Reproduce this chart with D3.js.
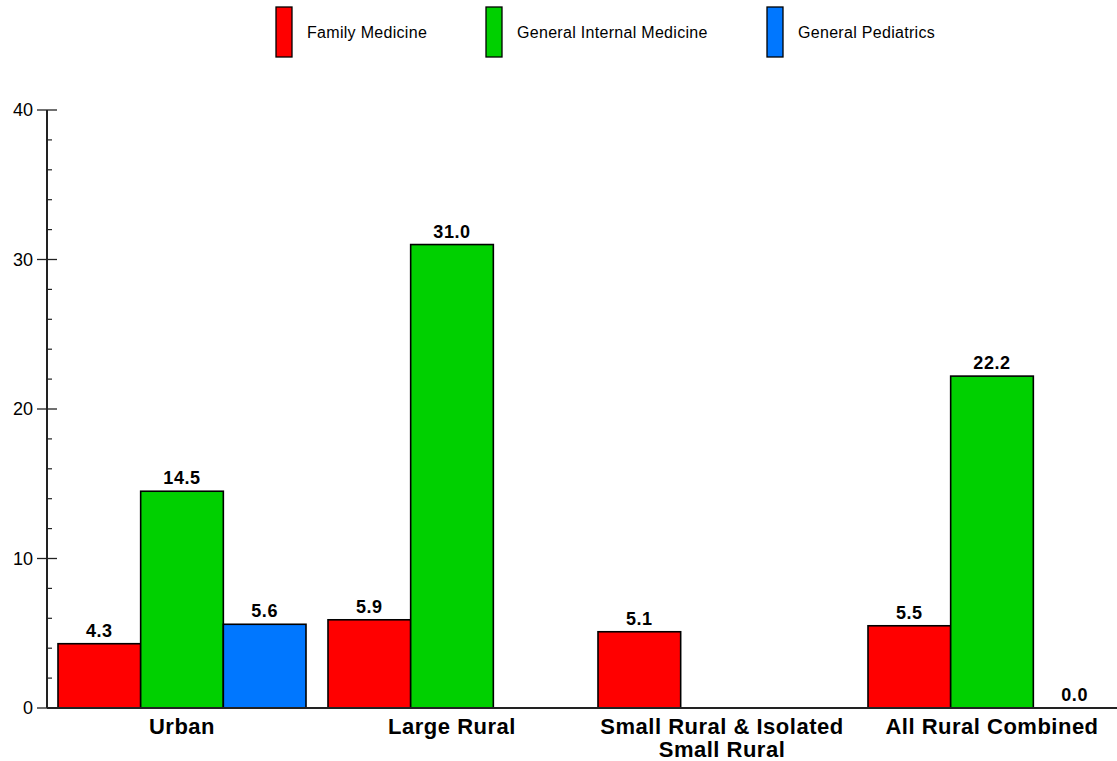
<!DOCTYPE html>
<html><head><meta charset="utf-8">
<script src="https://cdn.jsdelivr.net/npm/d3@7"></script>
<style>body{margin:0;background:#fff}svg{display:block}text{font-family:"Liberation Sans",Arial,sans-serif}</style>
</head><body><svg id="c" width="1117" height="761"></svg>
<script>
const categories = ["Urban", "Large Rural", "Small Rural & Isolated|Small Rural", "All Rural Combined"];
const seriesNames = ["Family Medicine", "General Internal Medicine", "General Pediatrics"];
const familyMedicine = [4.3, 5.9, 5.1, 5.5];
const internalMedicine = [14.5, 31.0, null, 22.2];
const pediatrics = [5.6, null, null, 0.0];
const colors = ["#ff0000", "#00d000", "#0077ff"];
const yTicks = [0, 10, 20, 30, 40];

const series = [familyMedicine, internalMedicine, pediatrics];
const svg = d3.select("#c");
const x0 = d3.scaleBand().domain(categories).range([47, 1127]).paddingInner(22/270).paddingOuter(11/270);
const x1 = d3.scaleBand().domain(seriesNames).range([0, x0.bandwidth()]);
const y = d3.scaleLinear().domain([0, 40]).range([708, 110]);

// bars
categories.forEach((c, ci) => {
  series.forEach((s, si) => {
    const v = s[ci];
    if (v === null) return;
    const bx = x0(c) + x1(seriesNames[si]);
    if (v > 0) {
      svg.append("rect").attr("x", bx).attr("y", y(v)).attr("width", x1.bandwidth()).attr("height", y(0) - y(v))
        .attr("fill", colors[si]).attr("stroke", "#000").attr("stroke-width", 1.6);
    }
    svg.append("text").attr("x", bx + x1.bandwidth()/2).attr("y", y(v) - 7).attr("text-anchor", "middle")
      .attr("font-size", 18).attr("letter-spacing", 0.6).attr("font-weight", "bold").text(v.toFixed(1));
  });
});

// y axis
const yAxis = svg.append("g");
yAxis.append("line").attr("x1", 47).attr("x2", 47).attr("y1", y(40)).attr("y2", y(0)).attr("stroke", "#222").attr("stroke-width", 2);
d3.range(0, 41, 2).forEach(t => {
  const major = t % 10 === 0;
  yAxis.append("line").attr("x1", major ? 37 : 47).attr("x2", major ? 57 : 52).attr("y1", y(t)).attr("y2", y(t))
    .attr("stroke", "#222").attr("stroke-width", major ? 1.3 : 1.2);
});
yTicks.forEach(t => {
  yAxis.append("text").attr("x", 33).attr("y", y(t)).attr("dy", "0.35em").attr("text-anchor", "end")
    .attr("font-size", 18).text(t);
});
// x axis
svg.append("line").attr("x1", 47).attr("x2", 1117).attr("y1", y(0)).attr("y2", y(0)).attr("stroke", "#222").attr("stroke-width", 2);
categories.forEach(c => {
  const parts = c.split("|");
  const cx = x0(c) + x0.bandwidth()/2;
  const t = svg.append("text").attr("x", cx).attr("y", 734).attr("text-anchor", "middle")
    .attr("font-size", 22).attr("letter-spacing", 0.5).attr("font-weight", "bold");
  parts.forEach((p, i) => t.append("tspan").attr("x", cx).attr("dy", i ? 23 : 0).text(p));
});

// legend
const legX = [276, 486, 767];
seriesNames.forEach((n, i) => {
  svg.append("rect").attr("x", legX[i]).attr("y", 7).attr("width", 16).attr("height", 50)
    .attr("fill", colors[i]).attr("stroke", "#000").attr("stroke-width", 1.3);
  svg.append("text").attr("x", legX[i] + 31).attr("y", 32).attr("dy", "0.35em").attr("font-size", 16)
    .attr("letter-spacing", 0.3).text(n);
});
</script></body></html>
